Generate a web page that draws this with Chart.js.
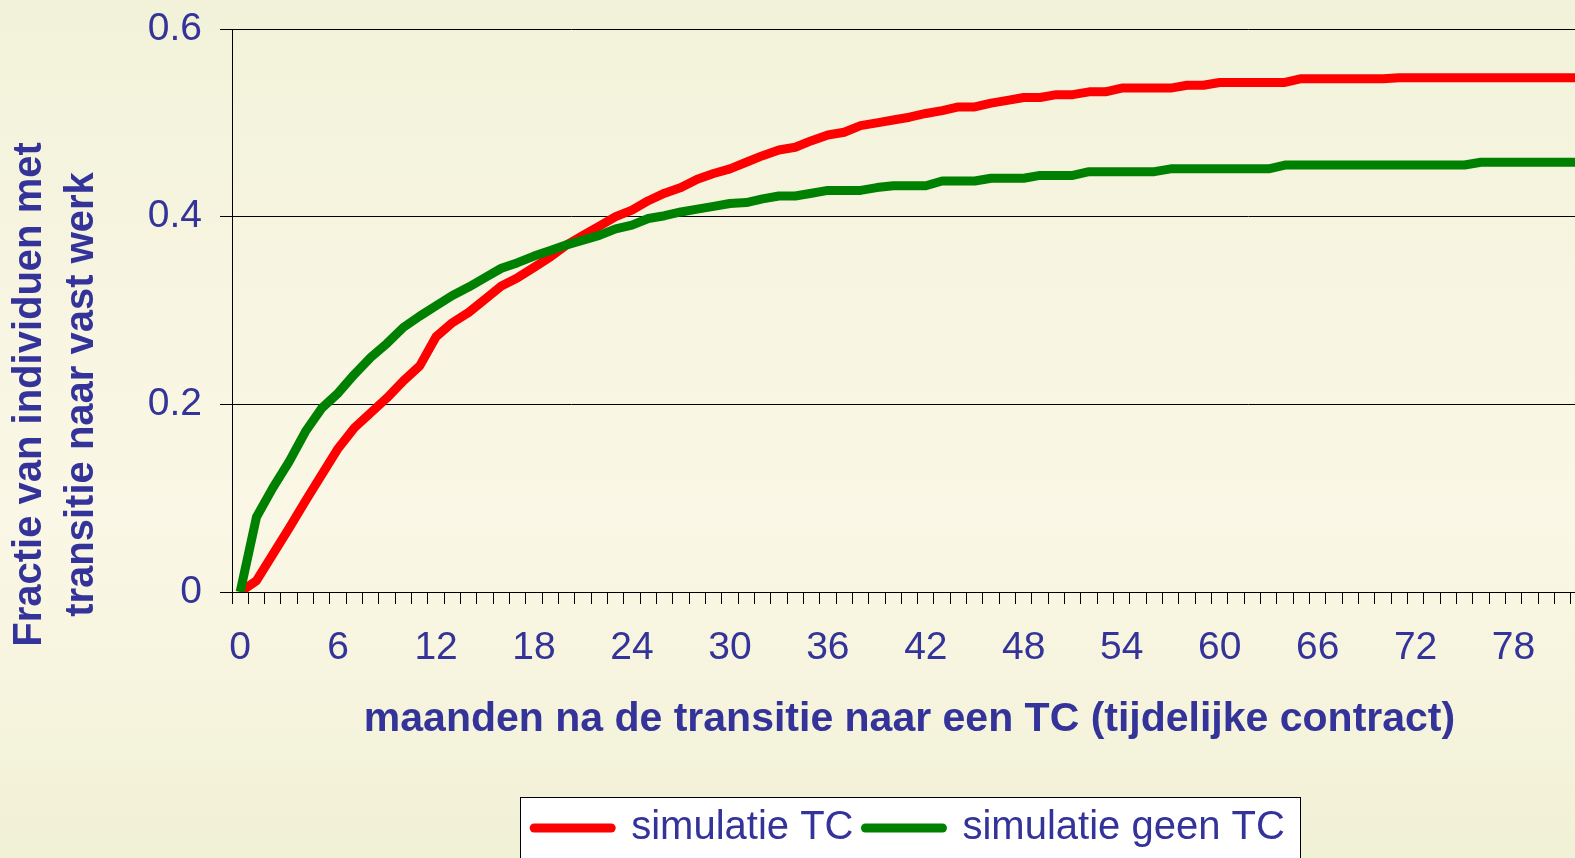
<!DOCTYPE html>
<html>
<head>
<meta charset="utf-8">
<script src="https://cdn.jsdelivr.net/npm/chart.js@4/dist/chart.umd.min.js"></script>
<style>
    html, body { margin: 0; padding: 0; overflow: hidden; background: #f7f5e0; }
    canvas { display: block; }
</style>
</head>
<body>
<!-- the original plot runs a little past the right edge of the picture, so the canvas is a bit wider than the window -->
<canvas class="js-graph" width="1587" height="858"></canvas>
<script>
const months = [0, 1, 2, 3, 4, 5, 6, 7, 8, 9, 10, 11, 12, 13, 14, 15, 16, 17, 18, 19,
    20, 21, 22, 23, 24, 25, 26, 27, 28, 29, 30, 31, 32, 33, 34, 35, 36, 37, 38, 39,
    40, 41, 42, 43, 44, 45, 46, 47, 48, 49, 50, 51, 52, 53, 54, 55, 56, 57, 58, 59,
    60, 61, 62, 63, 64, 65, 66, 67, 68, 69, 70, 71, 72, 73, 74, 75, 76, 77, 78, 79,
    80, 81, 82, 83];
const x_tick_labels = [0, 6, 12, 18, 24, 30, 36, 42, 48, 54, 60, 66, 72, 78];
const y_ticks = [0, 0.2, 0.4, 0.6];

const simulatie_tc = [0, 0.012, 0.040, 0.068, 0.097, 0.125, 0.153, 0.175, 0.191, 0.207,
    0.225, 0.241, 0.272, 0.287, 0.298, 0.312, 0.326, 0.335, 0.346, 0.357,
    0.370, 0.380, 0.390, 0.400, 0.407, 0.417, 0.425, 0.431, 0.440, 0.446,
    0.451, 0.458, 0.465, 0.471, 0.474, 0.481, 0.487, 0.490, 0.497, 0.500,
    0.503, 0.506, 0.510, 0.513, 0.517, 0.517, 0.521, 0.524, 0.527, 0.527,
    0.530, 0.530, 0.533, 0.533, 0.537, 0.537, 0.537, 0.537, 0.540, 0.540,
    0.543, 0.543, 0.543, 0.543, 0.543, 0.547, 0.547, 0.547, 0.547, 0.547,
    0.547, 0.548, 0.548, 0.548, 0.548, 0.548, 0.548, 0.548, 0.548, 0.548,
    0.548, 0.548, 0.548, 0.548];
const simulatie_geen_tc = [0, 0.080, 0.111, 0.139, 0.171, 0.196, 0.212, 0.232, 0.250, 0.265,
    0.282, 0.294, 0.305, 0.316, 0.325, 0.335, 0.345, 0.351, 0.358, 0.364,
    0.370, 0.375, 0.380, 0.387, 0.391, 0.398, 0.401, 0.405, 0.408, 0.411,
    0.414, 0.415, 0.419, 0.422, 0.422, 0.425, 0.428, 0.428, 0.428, 0.431,
    0.433, 0.433, 0.433, 0.438, 0.438, 0.438, 0.441, 0.441, 0.441, 0.444,
    0.444, 0.444, 0.448, 0.448, 0.448, 0.448, 0.448, 0.451, 0.451, 0.451,
    0.451, 0.451, 0.451, 0.451, 0.455, 0.455, 0.455, 0.455, 0.455, 0.455,
    0.455, 0.455, 0.455, 0.455, 0.455, 0.455, 0.458, 0.458, 0.458, 0.458,
    0.458, 0.458, 0.458, 0.458];

const series_names = ['simulatie TC', 'simulatie geen TC'];
const x_title = 'maanden na de transitie naar een TC (tijdelijke contract)';
const y_title = ['Fractie van individuen met', 'transitie naar vast werk'];

const text_blue = '#333399';
const font_family = "'Liberation Sans', Arial, sans-serif";

// pale gradient behind everything + white frame behind the legend
const backdrop = {
    id: 'backdrop',
    beforeDraw: (chart) => {
        const { ctx, width, height } = chart;
        const g = ctx.createLinearGradient(0, 0, 0, height);
        g.addColorStop(0, '#f2f2da');
        g.addColorStop(0.6, '#fbf7e6');
        g.addColorStop(1, '#f1f1d6');
        ctx.save();
        ctx.fillStyle = g;
        ctx.fillRect(0, 0, width, height);

        const boxes = chart.legend.legendHitBoxes;
        if (boxes && boxes.length) {
            const first = boxes[0];
            const last = boxes[boxes.length - 1];
            const left = Math.round(first.left - 14) + 0.5;
            const right = Math.round(last.left + last.width + 15) + 0.5;
            const top = Math.round(first.top - 11.5) + 0.5;
            ctx.fillStyle = '#ffffff';
            ctx.fillRect(left, top, right - left, height - top + 20);
            ctx.strokeStyle = '#000000';
            ctx.lineWidth = 1;
            ctx.strokeRect(left, top, right - left, height - top + 20);
        }
        ctx.restore();
    }
};

// two-line rotated y title, centred lower than the plot area like the original
const y_axis_title = {
    id: 'y_axis_title',
    afterDraw: (chart) => {
        const ctx = chart.ctx;
        const line_x = [29.5, 82];
        ctx.save();
        ctx.font = `bold 40px ${font_family}`;
        ctx.fillStyle = text_blue;
        ctx.textAlign = 'center';
        ctx.textBaseline = 'middle';
        y_title.forEach((line, i) => {
            ctx.save();
            ctx.translate(line_x[i], 394.5);
            ctx.rotate(-Math.PI / 2);
            ctx.fillText(line, 0, 0);
            ctx.restore();
        });
        ctx.restore();
    }
};

const draw_chart = () => {
    const ctx = document.querySelector('.js-graph').getContext('2d');

    const data = {
        labels: months,
        datasets: [{
            label: series_names[0],
            data: simulatie_tc,
            borderColor: '#ff0000',
            backgroundColor: '#ff0000',
            borderWidth: 9,
            borderJoinStyle: 'round',
            pointRadius: 0,
            tension: 0,
            clip: 0,
            order: 1
        }, {
            label: series_names[1],
            data: simulatie_geen_tc,
            borderColor: '#008000',
            backgroundColor: '#008000',
            borderWidth: 9,
            borderJoinStyle: 'round',
            pointRadius: 0,
            tension: 0,
            clip: 0,
            order: 0
        }]
    };

    new Chart(ctx, {
        type: 'line',
        data: data,
        plugins: [backdrop, y_axis_title],
        options: {
            responsive: false,
            animation: false,
            devicePixelRatio: 1,
            layout: { padding: { top: 29, left: 0, right: 0, bottom: 0 } },
            plugins: {
                legend: {
                    position: 'bottom',
                    fullSize: false,
                    labels: {
                        usePointStyle: true,
                        pointStyle: 'line',
                        pointStyleWidth: 77,
                        padding: 12,
                        color: text_blue,
                        font: { family: font_family, size: 40 },
                        sort: (a, b) => a.datasetIndex - b.datasetIndex,
                        generateLabels: (chart) => Chart.defaults.plugins.legend.labels
                            .generateLabels(chart)
                            .map((item) => Object.assign(item, { lineCap: 'round', lineWidth: 9 }))
                    }
                },
                tooltip: { enabled: false }
            },
            scales: {
                x: {
                    type: 'linear',
                    bounds: 'data',
                    min: -0.5,
                    max: 82.5,
                    afterBuildTicks: (axis) => {
                        axis.ticks = months.filter((m) => m <= axis.max).map((m) => ({ value: m }));
                    },
                    afterFit: (axis) => {
                        axis.height = 204;
                        axis.paddingLeft = 0;
                        axis.paddingRight = 0;
                    },
                    grid: {
                        offset: true,
                        drawOnChartArea: false,
                        drawTicks: true,
                        tickLength: 12,
                        color: '#000000',
                        lineWidth: 1
                    },
                    border: { display: true, color: '#000000', width: 1 },
                    ticks: {
                        autoSkip: false,
                        maxRotation: 0,
                        minRotation: 0,
                        padding: 21,
                        color: text_blue,
                        font: { family: font_family, size: 39 },
                        callback: (v) => x_tick_labels.includes(v) ? String(v) : ''
                    },
                    title: {
                        display: true,
                        text: x_title,
                        color: text_blue,
                        font: { family: font_family, size: 41, weight: 'bold' },
                        padding: { top: 0, bottom: 52 }
                    }
                },
                y: {
                    min: 0,
                    max: 0.6,
                    afterBuildTicks: (axis) => {
                        axis.ticks = y_ticks.map((v) => ({ value: v }));
                    },
                    afterFit: (axis) => {
                        axis.width = 232;
                        axis.paddingTop = 0;
                        axis.paddingBottom = 0;
                    },
                    grid: {
                        color: '#000000',
                        lineWidth: 1,
                        drawTicks: true,
                        tickLength: 12
                    },
                    border: { display: true, color: '#000000', width: 1 },
                    ticks: {
                        padding: 18,
                        color: text_blue,
                        font: { family: font_family, size: 39 },
                        callback: (v) => v === 0 ? '0' : v.toFixed(1)
                    }
                }
            }
        }
    });
};

const init = () => {
    draw_chart();
};

init();
</script>
</body>
</html>
